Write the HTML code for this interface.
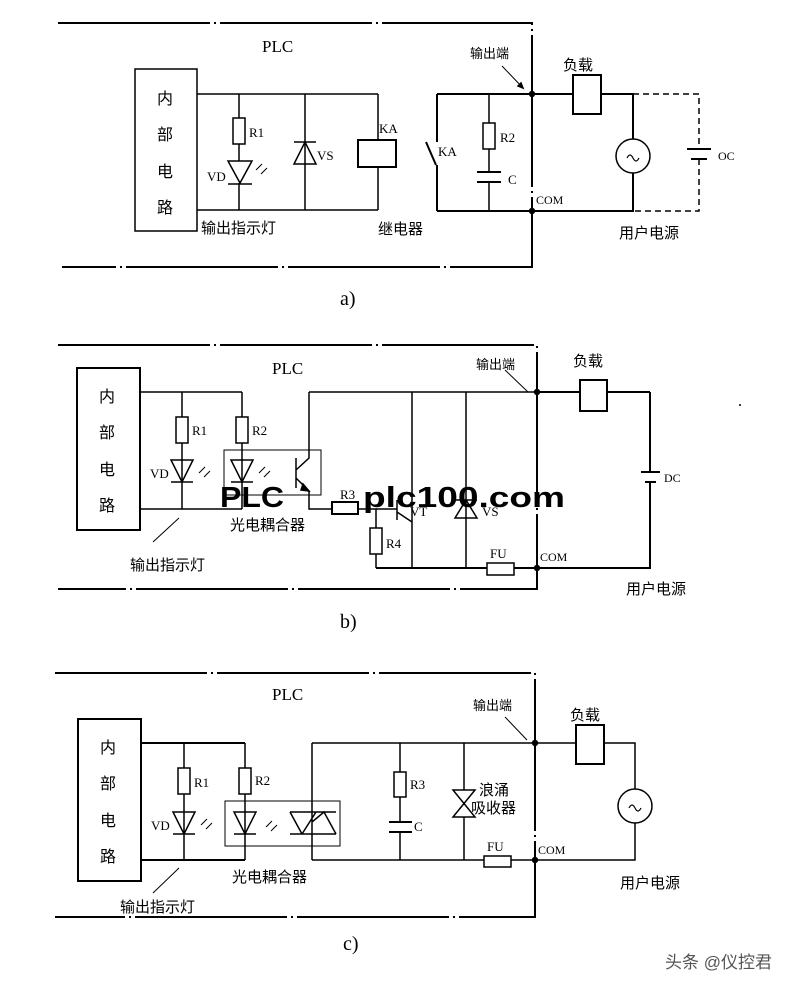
<!DOCTYPE html>
<html><head><meta charset="utf-8"><style>
html,body{margin:0;padding:0;background:#fff}
svg{display:block}
.s{font-family:"Liberation Serif",serif;font-size:13px}
.c{font-family:"Liberation Sans","Noto Sans CJK SC",sans-serif;font-size:15px}
.bd{stroke-dasharray:152 4 2 4}
</style></head><body>
<svg width="808" height="988" viewBox="0 0 808 988" xmlns="http://www.w3.org/2000/svg" stroke="#000" fill="none" stroke-width="1.5">
<!-- ============ PANEL A ============ -->
<g>
<path class="bd" d="M58 23H532V267H62" stroke-width="2"/>
<rect x="135" y="69" width="62" height="162" stroke-width="1.5"/>
<path d="M197 94H378M197 210H378M239 94V118M239 144V161M239 183V210M305 94V210M378 94V140M378 167V210"/>
<rect x="233" y="118" width="12" height="26" fill="#fff"/>
<path d="M228 161H252L240 183Z M228 184H252" />
<path d="M256 170l6-6M261 174l6-6" stroke-width="1"/>
<path d="M294 164H316L305 142Z M294 142H316"/>
<rect x="358" y="140" width="38" height="27" fill="#fff" stroke-width="2"/>
<path d="M437 94H532M437 211H532M437 94V142M426 142L436 165M437 165V211" stroke-width="2"/>
<path d="M489 94V123M489 149V172M489 182V211"/>
<rect x="483" y="123" width="12" height="26" fill="#fff"/>
<path d="M477 172H501M477 182H501" stroke-width="2"/>
<path d="M532 94H573M601 94H633V139M633 173V211H532" stroke-width="2"/>
<rect x="573" y="75" width="28" height="39" fill="#fff" stroke-width="2"/>
<circle cx="633" cy="156" r="17"/>
<path d="M627 158q3-6 6 0t6 0" stroke-width="1.2"/>
<path d="M633 94H699V149M699 159V211H633" stroke-dasharray="6 4"/>
<path d="M687 149H711M691 159H707" stroke-width="2"/>
<circle cx="532" cy="94" r="2.5" fill="#000"/><circle cx="532" cy="211" r="2.5" fill="#000"/>
<path d="M502 66L523 88" stroke-width="1"/><path d="M523 88l-5-2 3-3z" fill="#000"/>
<g stroke="none" fill="#000">
<text x="262" y="52" class="s" style="font-size:17px">PLC</text>
<text x="157" y="104" class="c" style="font-size:16px">内</text>
<text x="157" y="140" class="c" style="font-size:16px">部</text>
<text x="157" y="177" class="c" style="font-size:16px">电</text>
<text x="157" y="213" class="c" style="font-size:16px">路</text>
<text x="249" y="137" class="s">R1</text>
<text x="207" y="181" class="s">VD</text>
<text x="317" y="160" class="s">VS</text>
<text x="379" y="133" class="s">KA</text>
<text x="438" y="156" class="s">KA</text>
<text x="500" y="142" class="s">R2</text>
<text x="508" y="184" class="s">C</text>
<text x="536" y="204" class="s" style="font-size:12px">COM</text>
<text x="718" y="160" class="s" style="font-size:12px">OC</text>
<text x="470" y="58" class="c" style="font-size:13px">输出端</text>
<text x="563" y="70" class="c">负载</text>
<text x="201" y="233" class="c">输出指示灯</text>
<text x="378" y="234" class="c">继电器</text>
<text x="619" y="238" class="c">用户电源</text>
<text x="340" y="305" class="s" style="font-size:20px">a)</text>
</g>
</g>
<!-- ============ PANEL B ============ -->
<g>
<path class="bd" d="M58 345H537V589H58" stroke-width="2"/>
<rect x="77" y="368" width="63" height="162" stroke-width="2"/>
<path d="M140 392H242M140 509H242M182 392V417M182 443V509M242 392V417M242 443V509"/>
<rect x="176" y="417" width="12" height="26" fill="#fff"/>
<rect x="236" y="417" width="12" height="26" fill="#fff"/>
<path d="M171 460H193L182 482Z M171 482H193"/>
<path d="M231 460H253L242 482Z M231 482H253"/>
<path d="M199 473l6-6M204 477l6-6M259 473l6-6M264 477l6-6" stroke-width="1"/>
<rect x="224" y="450" width="97" height="45" stroke-width="1"/>
<path d="M309 392H650M309 392V458L296 470M296 458V488M296 478L309 491V509H332M358 509H376V528M376 554V568"/>
<path d="M303 484l6 7-8-1z" fill="#000"/>
<rect x="332" y="502" width="26" height="12" fill="#fff" stroke-width="2"/>
<rect x="370" y="528" width="12" height="26" fill="#fff"/>
<path d="M376 509H397M397 500V520M397 512L412 522M412 392V568M466 392V568"/>
<path d="M455 518H477L466 500Z M455 500H477"/>
<path d="M376 568H487M514 568H650V482M650 472V392" stroke-width="2"/>
<rect x="487" y="563" width="27" height="12" fill="#fff"/>
<path d="M537 392H580M607 392H650" stroke-width="2"/>
<rect x="580" y="380" width="27" height="31" fill="#fff" stroke-width="2"/>
<path d="M641 472H660M645 482H656" stroke-width="2"/>
<circle cx="537" cy="392" r="2.5" fill="#000"/><circle cx="537" cy="568" r="2.5" fill="#000"/>
<path d="M505 370L528 392" stroke-width="1"/>
<path d="M153 542L179 518" stroke-width="1"/>
<g stroke="none" fill="#000">
<circle cx="740" cy="405" r="1"/>
<text x="272" y="374" class="s" style="font-size:17px">PLC</text>
<text x="99" y="402" class="c" style="font-size:16px">内</text>
<text x="99" y="438" class="c" style="font-size:16px">部</text>
<text x="99" y="475" class="c" style="font-size:16px">电</text>
<text x="99" y="511" class="c" style="font-size:16px">路</text>
<text x="192" y="435" class="s">R1</text>
<text x="252" y="435" class="s">R2</text>
<text x="150" y="478" class="s">VD</text>
<text x="386" y="548" class="s">R4</text>
<text x="490" y="558" class="s">FU</text>
<text x="540" y="561" class="s" style="font-size:12px">COM</text>
<text x="664" y="482" class="s" style="font-size:12px">DC</text>
<text x="476" y="369" class="c" style="font-size:13px">输出端</text>
<text x="573" y="366" class="c">负载</text>
<text x="230" y="530" class="c">光电耦合器</text>
<text x="130" y="570" class="c">输出指示灯</text>
<text x="626" y="594" class="c">用户电源</text>
<text x="340" y="499" class="s">R3</text>
<text x="410" y="516" class="s">VT</text>
<text x="482" y="516" class="s">VS</text>
<text x="220" y="507" style="font-family:'Liberation Sans',sans-serif;font-weight:bold;font-size:29px" textLength="64" lengthAdjust="spacingAndGlyphs">PLC</text>
<text x="363" y="507" style="font-family:'Liberation Sans',sans-serif;font-weight:bold;font-size:29px" textLength="202" lengthAdjust="spacingAndGlyphs">plc100.com</text>
<text x="340" y="628" class="s" style="font-size:20px">b)</text>
</g>
</g>
<!-- ============ PANEL C ============ -->
<g>
<path class="bd" d="M55 673H535V917H55" stroke-width="2"/>
<rect x="78" y="719" width="63" height="162" stroke-width="2"/>
<path d="M141 743H245M141 860H245" stroke-width="2"/>
<path d="M184 743V768M184 794V860M245 743V768M245 794V860"/>
<rect x="178" y="768" width="12" height="26" fill="#fff"/>
<rect x="239" y="768" width="12" height="26" fill="#fff"/>
<path d="M173 812H195L184 834Z M173 834H195"/>
<path d="M234 812H256L245 834Z M234 834H256"/>
<path d="M201 825l6-6M206 829l6-6M266 827l6-6M271 831l6-6" stroke-width="1"/>
<rect x="225" y="801" width="115" height="45" stroke-width="1"/>
<path d="M290 812H336M290 834H336M290 812L302 834M302 834L316 812M312 822L324 812L336 834M312 743V860"/>
<path d="M312 743H635V789M635 823V860H312"/>
<path d="M400 743V772M400 797V822M400 832V860"/>
<rect x="394" y="772" width="12" height="25" fill="#fff"/>
<path d="M389 822H412M389 832H412" stroke-width="2"/>
<path d="M464 743V790M464 817V860M453 790H475L453 817H475Z"/>
<rect x="484" y="856" width="27" height="11" fill="#fff"/>
<rect x="576" y="725" width="28" height="39" fill="#fff" stroke-width="2"/>
<circle cx="635" cy="806" r="17"/>
<path d="M629 808q3-6 6 0t6 0" stroke-width="1.2"/>
<circle cx="535" cy="743" r="2.5" fill="#000"/><circle cx="535" cy="860" r="2.5" fill="#000"/>
<path d="M505 717L527 740" stroke-width="1"/>
<path d="M153 893L179 868" stroke-width="1"/>
<g stroke="none" fill="#000">
<text x="272" y="700" class="s" style="font-size:17px">PLC</text>
<text x="100" y="753" class="c" style="font-size:16px">内</text>
<text x="100" y="789" class="c" style="font-size:16px">部</text>
<text x="100" y="826" class="c" style="font-size:16px">电</text>
<text x="100" y="862" class="c" style="font-size:16px">路</text>
<text x="194" y="787" class="s">R1</text>
<text x="255" y="785" class="s">R2</text>
<text x="151" y="830" class="s">VD</text>
<text x="410" y="789" class="s">R3</text>
<text x="414" y="831" class="s">C</text>
<text x="487" y="851" class="s">FU</text>
<text x="538" y="854" class="s" style="font-size:12px">COM</text>
<text x="473" y="710" class="c" style="font-size:13px">输出端</text>
<text x="570" y="720" class="c">负载</text>
<text x="479" y="795" class="c">浪涌</text>
<text x="471" y="813" class="c">吸收器</text>
<text x="232" y="882" class="c">光电耦合器</text>
<text x="120" y="912" class="c">输出指示灯</text>
<text x="620" y="888" class="c">用户电源</text>
<text x="343" y="950" class="s" style="font-size:20px">c)</text>
<text x="665" y="968" class="c" style="font-size:17px;fill:#555">头条 @仪控君</text>
</g>
</g>
</svg>
</body></html>
